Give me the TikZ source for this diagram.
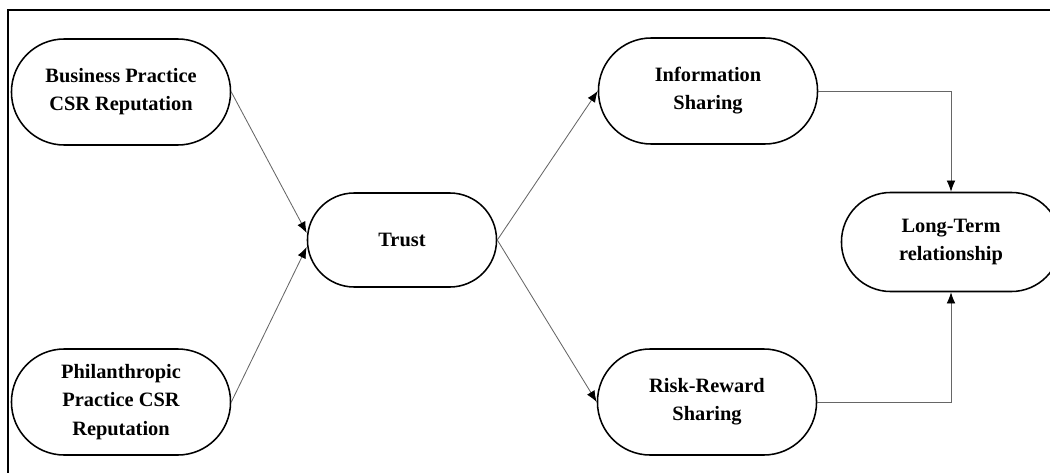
\documentclass[tikz,border=0pt]{standalone}
\usepackage{fontspec}
\setmainfont{Liberation Serif}
\usetikzlibrary{arrows.meta}

\begin{document}
\begin{tikzpicture}[x=0.025cm, y=-0.025cm,
    pill/.style={draw, line width=1.1pt, align=center, font=\bfseries\fontsize{14.5}{20}\selectfont,
        minimum width=5.475cm, minimum height=2.65cm, rounded corners=1.32cm, inner sep=0pt},
    link/.style={draw=black!60, line width=0.6pt, -{Latex[length=2.8mm, width=2.2mm, color=black]}}]
            \useasboundingbox (0,0) rectangle (1050,473);

            \draw[line width=1.4pt] (1050,10) -- (8,10) -- (8,473);

            \node[pill] (bp) at (121,92) {Business Practice\\CSR Reputation};
            \node[pill] (pp) at (121,402) {Philanthropic\\Practice CSR\\Reputation};
            \node[pill, minimum width=4.725cm, minimum height=2.35cm, rounded corners=1.17cm] (trust) at (402,240) {Trust};
            \node[pill] (info) at (708,91) {Information\\Sharing};
            \node[pill] (risk) at (707,402) {Risk-Reward\\Sharing};
            \node[pill, minimum height=2.475cm, rounded corners=1.23cm] (lt) at (951,242) {Long-Term\\relationship};

            \draw[link] (bp.east) -- ([yshift=0.175cm]trust.west);
            \draw[link] (pp.east) -- ([yshift=-0.175cm]trust.west);
            \draw[link] (trust.east) -- (info.west);
            \draw[link] (trust.east) -- (risk.west);
            \draw[link] (info.east) -| (lt.north);
            \draw[link] (risk.east) -| (lt.south);

        \end{tikzpicture}
\end{document}
